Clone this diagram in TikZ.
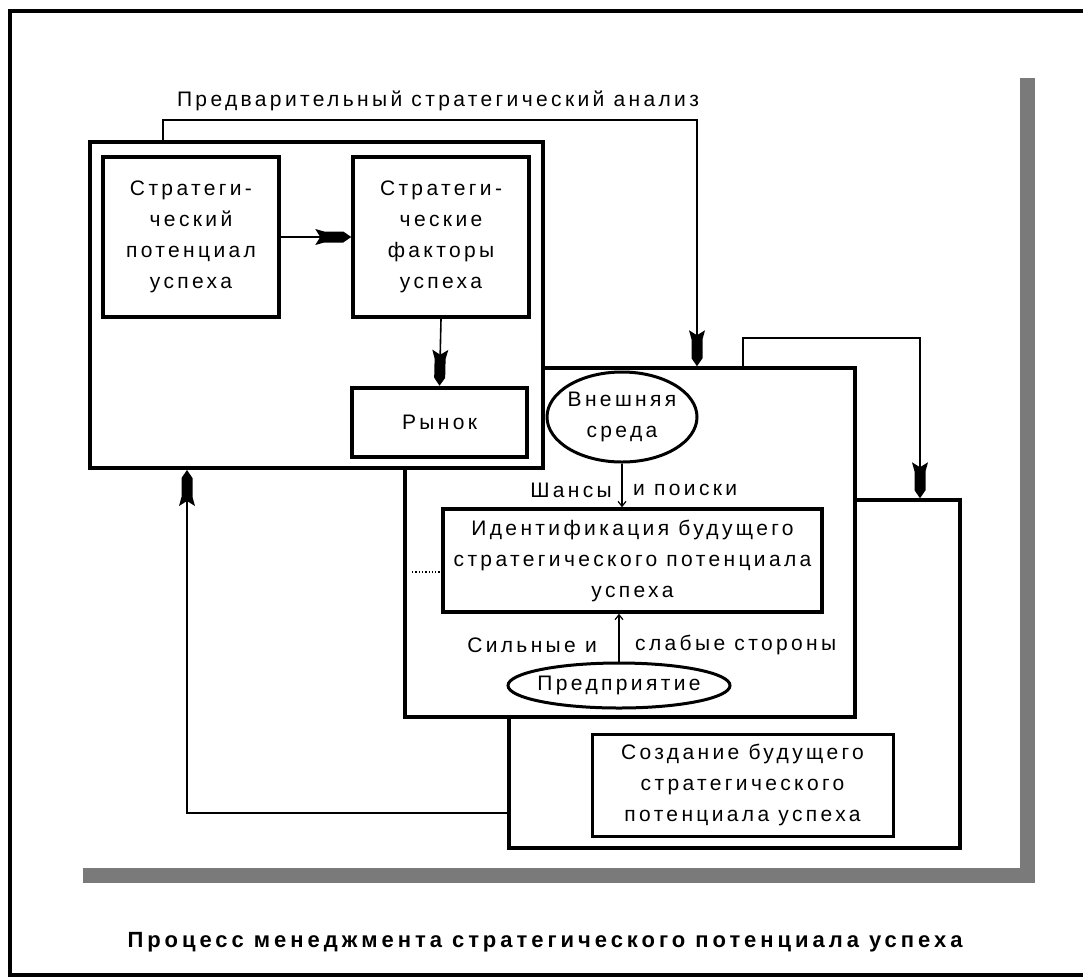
\documentclass[tikz,border=0pt]{standalone}
\usepackage{fontspec}
\setmainfont{Liberation Sans}[LetterSpace=16]
\newfontfamily\capfont{Liberation Sans}[LetterSpace=18]
\usetikzlibrary{arrows.meta,shapes.geometric}
\definecolor{shadowgrey}{RGB}{122,122,122}
\newcommand\lbl{\fontsize{21}{31}\selectfont}
% solid arrow head with a swallow-tail back
\pgfdeclarearrow{
  name = FletchedHead,
  setup code = {
    \pgfarrowssettipend{0pt}
    \pgfarrowssetlineend{-28pt}
    \pgfarrowsupperhullpoint{0pt}{0pt}
    \pgfarrowsupperhullpoint{-36pt}{8pt}
  },
  drawing code = {
    \pgfpathmoveto{\pgfpoint{0pt}{0pt}}
    \pgfpathlineto{\pgfpoint{-8pt}{5.5pt}}
    \pgfpathlineto{\pgfpoint{-27pt}{5.5pt}}
    \pgfpathlineto{\pgfpoint{-36pt}{8pt}}
    \pgfpathlineto{\pgfpoint{-31pt}{0pt}}
    \pgfpathlineto{\pgfpoint{-36pt}{-8pt}}
    \pgfpathlineto{\pgfpoint{-27pt}{-5.5pt}}
    \pgfpathlineto{\pgfpoint{-8pt}{-5.5pt}}
    \pgfpathclose
    \pgfusepathqfill
  },
}
\tikzset{
  frame/.style={draw, rectangle, line width=3.5pt, fill=white, inner sep=0pt},
  box/.style={draw, rectangle, line width=3.5pt, fill=white, inner sep=0pt, align=center, font=\lbl},
  oval/.style={draw, ellipse, line width=3pt, fill=white, inner sep=0pt, align=center, font=\lbl},
  lab/.style={inner sep=0pt, font=\lbl},
  link/.style={line width=1.6pt},
  bigarrow/.style={link, -{FletchedHead}},
  smallarrow/.style={link, -{Straight Barb[length=5pt,width=8pt,line width=1.2pt]}},
}
\begin{document}
\begin{tikzpicture}[x=1pt,y=-1pt]
\useasboundingbox (0,0) rectangle (1083,978);
% outer frame
\draw[line width=4pt] (1100,11) -- (10,11) -- (10,975) -- (1100,975);
% grey drop shadow of the diagram area
\fill[shadowgrey] (1020,78) rectangle (1035,883);
\fill[shadowgrey] (83,868) rectangle (1035,883);

% three overlapping stages, back to front
\node[frame, minimum width=451pt, minimum height=348pt] (stC) at (734.5,674) {};
\node[frame, minimum width=450pt, minimum height=349pt] (stB) at (630,542.5) {};
\node[frame, minimum width=453pt, minimum height=326pt, line width=4pt] (stA) at (316.5,305) {};

% first stage contents
\node[box, minimum width=176pt, minimum height=160pt] (pot) at (191,237) {Стратеги-\\ческий\\потенциал\\успеха};
\node[box, minimum width=176pt, minimum height=160pt] (fac) at (441,237) {Стратеги-\\ческие\\факторы\\успеха};
\node[box, minimum width=175pt, minimum height=69pt, line width=4.5pt] (mkt) at (439.5,422.5) {Рынок};

% second stage contents
\node[oval, minimum width=150pt, minimum height=90pt, inner xsep=-3pt] (env) at (622,417) {Внешняя\\среда};
\node[box, minimum width=379pt, minimum height=103pt] (ident) at (632.5,560.5) {Идентификация будущего\\стратегического потенциала\\успеха};
\node[oval, minimum width=222pt, minimum height=45pt, inner xsep=-6pt, inner ysep=-4pt] (ent) at (619,685.5) {Предприятие};
\node[lab, anchor=east] (chl) at (612,490) {Шансы};
\node[lab, anchor=west] (chr) at (633,490) {и поиски};
\node[lab, anchor=east] (swl) at (597,645) {Сильные и};
\node[lab, anchor=west] (swr) at (635,645) {слабые стороны};

% third stage contents
\node[box, minimum width=301pt, minimum height=102pt, line width=3pt] (cre) at (742.5,785) {Создание будущего\\стратегического\\потенциала успеха};

% titles
\node[lab] (pre) at (438,101) {Предварительный стратегический анализ};
\node[inner sep=0pt, font={\capfont\bfseries\fontsize{22}{24}\selectfont}] (cap) at (545,942) {Процесс менеджмента стратегического потенциала успеха};

% connectors inside the first stage
\draw[bigarrow] (pot.east) -- (fac.west);
\draw[bigarrow] (fac.south) -- (mkt.north);

% connectors inside the second stage
\draw[smallarrow] (env.south) -- (env.south |- ident.north);
\draw[smallarrow] (ent.north) -- (ent.north |- ident.south);
\coordinate (dt) at (412,572);
\draw[dotted, line width=1.3pt] (dt) -- (dt -| ident.west);

% links between stages
\coordinate (t1) at (163,120);
\coordinate (t2) at (697,120);
\draw[bigarrow] (stA.north -| t1) -- (t1) -- (t2) -- (t2 |- stB.north);
\coordinate (t3) at (743,338);
\coordinate (t4) at (920,338);
\draw[bigarrow] (stB.north -| t3) -- (t3) -- (t4) -- (t4 |- stC.north);
\coordinate (t5) at (187,813);
\draw[bigarrow] (stC.west |- t5) -- (t5) -- (t5 |- stA.south);
\end{tikzpicture}
\end{document}
